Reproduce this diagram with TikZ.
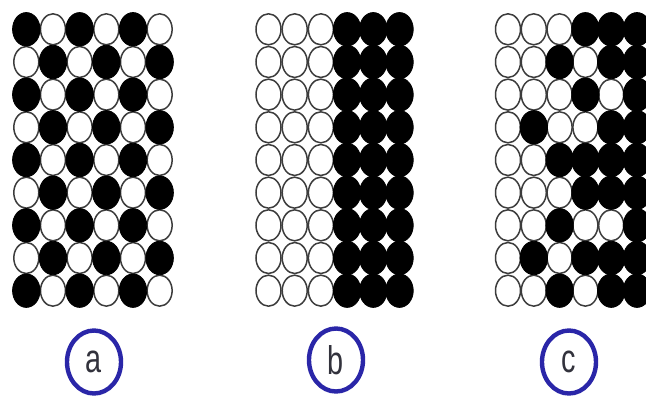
\documentclass[tikz,border=0pt]{standalone}
\usepackage{fontspec}
\setmainfont{Liberation Sans}
\usetikzlibrary{shapes.geometric}
\definecolor{ringblue}{RGB}{42,38,168}
\definecolor{outl}{RGB}{60,60,60}
\definecolor{lettergray}{RGB}{50,50,60}
\begin{document}
\begin{tikzpicture}[x=1pt,y=-1pt,
  wdot/.style={ellipse,draw=outl,line width=1.5pt,fill=white,minimum width=25pt,minimum height=31pt,inner sep=0pt},
  bdot/.style={ellipse,draw=black,line width=0.8pt,fill=black,minimum width=27.5pt,minimum height=33.5pt,inner sep=0pt},
  tag/.style={ellipse,draw=ringblue,line width=4.4pt,minimum width=54pt,minimum height=63pt,inner sep=0pt,text=lettergray,font=\fontsize{40}{40}\selectfont}]
\useasboundingbox (0,0) rectangle (646,397);
\fill[white] (0,0) rectangle (646,397);
\begin{scope}
\clip (0,0) rectangle (646,397);
% grid a: checkerboard
\foreach \r in {0,...,8} {
  \foreach \c in {0,...,5} {
    \pgfmathtruncatemacro{\parity}{mod(\r+\c,2)}
    \ifnum\parity=1
      \node[wdot] (a-\r-\c) at ({26.3+26.67*\c},{29.3+32.67*\r}) {};
    \fi
  }
}
\foreach \r in {0,...,8} {
  \foreach \c in {0,...,5} {
    \pgfmathtruncatemacro{\parity}{mod(\r+\c,2)}
    \ifnum\parity=0
      \node[bdot] (a-\r-\c) at ({26.3+26.67*\c},{29.3+32.67*\r}) {};
    \fi
  }
}
% grid b: left white, right black
\foreach \r in {0,...,8} {
  \foreach \c in {0,1,2} {
    \node[wdot] (b-\r-\c) at ({268.5+26.2*\c},{29.3+32.67*\r}) {};
  }
}
\foreach \r in {0,...,8} {
  \foreach \c in {3,4,5} {
    \node[bdot] (b-\r-\c) at ({268.5+26.2*\c},{29.3+32.67*\r}) {};
  }
}
% grid c
\foreach \r in {0,...,8} {
  \foreach \c in {0,...,5} {
    \node[wdot] (cw-\r-\c) at ({508+25.8*\c},{29.3+32.67*\r}) {};
  }
}
\foreach \r/\cs in {0/{3,4,5},1/{2,4,5},2/{3,5},3/{1,4,5},4/{2,3,4,5},5/{3,4,5},6/{2,5},7/{1,3,4,5},8/{2,4,5}} {
  \foreach \c in \cs {
    \node[bdot] (c-\r-\c) at ({508+25.8*\c},{29.3+32.67*\r}) {};
  }
}
% labels
\node[tag] (la) at (94,362) {\scalebox{0.72}[1]{a}};
\node[tag] (lb) at (336,360) {\scalebox{0.72}[1]{b}};
\node[tag] (lc) at (569,362) {\scalebox{0.72}[1]{c}};
\end{scope}
\end{tikzpicture}
\end{document}
